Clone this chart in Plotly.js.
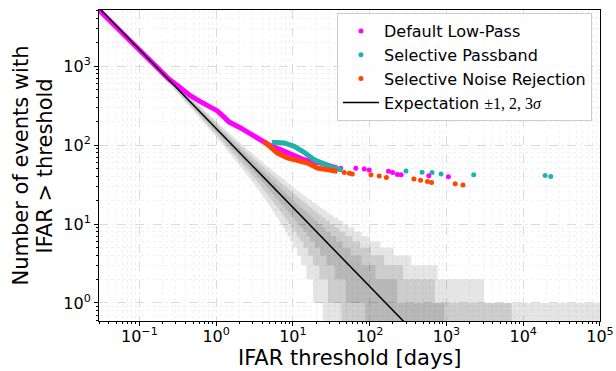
<!DOCTYPE html>
<html>
<head>
<meta charset="utf-8">
<script src="https://cdn.plot.ly/plotly-3.0.1.min.js"></script>
<style>html,body{margin:0;padding:0;background:#fff;}#chart{width:616px;height:371px;}</style>
</head>
<body>
<div id="chart"></div>
<script>
// ---- data ----
const obsTimeDays = 162; // expectation: N = obsTime / IFAR

const lowPassDenseX = [0.0298, 0.1, 0.181, 0.244, 0.329, 0.444, 0.6, 0.81, 1.04, 1.27, 1.48, 2.0, 2.69, 3.63, 4.9, 6.3, 9.0, 14, 23, 30.6, 38];
const lowPassDenseY = [5116, 1600, 880, 680, 545, 432, 362, 305, 270, 225, 195, 168, 140, 121, 100, 91, 78, 65, 59, 53.5, 51];
const lowPassX = [42, 66, 85, 98.6, 176, 199, 230, 257, 590, 1060];
const lowPassY = [50.6, 50.6, 49.6, 48.2, 46.5, 44.8, 42.4, 41.9, 40.7, 39.5];

const passbandDenseX = [5.3, 7.7, 10.4, 14, 19, 25.7, 34.6, 44];
const passbandDenseY = [108, 106, 96, 81, 65, 57, 51, 48];
const passbandX = [297, 481, 649, 851, 2263, 19300, 22860];
const passbandY = [46.9, 45.1, 44.8, 43.1, 41.9, 41.1, 39.9];

const noiseRejDenseX = [4.2, 5.2, 6.3, 8.5, 11.5, 15.5, 20.9, 28.2, 38];
const noiseRejDenseY = [111, 91.5, 79, 68.5, 64, 59, 51, 49, 46.5];
const noiseRejX = [46.7, 54.4, 59.4, 104, 133, 165, 377, 460, 566, 640, 1300, 1640];
const noiseRejY = [45, 43.8, 43, 41.9, 40.4, 38.8, 37.2, 35.8, 34.4, 33.5, 32.3, 31.2];

const sigmaLevels = [3, 2, 1];
const xTickVals = [0.1, 1, 10, 100, 1000, 10000, 100000];
const xTickText = ['10<sup>\u22121</sup>', '10<sup>0</sup>', '10<sup>1</sup>', '10<sup>2</sup>', '10<sup>3</sup>', '10<sup>4</sup>', '10<sup>5</sup>'];
const yTickVals = [1, 10, 100, 1000];
const yTickText = ['10<sup>0</sup>', '10<sup>1</sup>', '10<sup>2</sup>', '10<sup>3</sup>'];

const xMin = 0.0298, xMax = 1e5;

// ---- Poisson confidence bands around the expectation ----
const lnFact = [0];
for (let k = 1; k < 9000; k++) lnFact[k] = lnFact[k - 1] + Math.log(k);
function poissonPPF(q, mu) {
  if (mu <= 0) return 0;
  const lm = Math.log(mu);
  const k0 = Math.max(0, Math.floor(mu - 14 * Math.sqrt(mu) - 10));
  let cdf = 0;
  for (let k = k0; k < 9000; k++) {
    cdf += Math.exp(-mu + k * lm - lnFact[k]);
    if (cdf >= q) return k;
  }
  return 9000;
}
function normCdf(z) {
  const t = 1 / (1 + 0.3275911 * Math.abs(z) / Math.SQRT2);
  const y = 1 - (((((1.061405429 * t - 1.453152027) * t) + 1.421413741) * t - 0.284496736) * t + 0.254829592) * t * Math.exp(-z * z / 2);
  return z >= 0 ? 0.5 * (1 + y) : 0.5 * (1 - y);
}
const nGrid = 2500;
const gridX = [];
for (let i = 0; i < nGrid; i++) {
  gridX.push(Math.pow(10, Math.log10(xMin) + (Math.log10(xMax) - Math.log10(xMin)) * i / (nGrid - 1)));
}

const traces = [];
sigmaLevels.forEach(function (s) {
  const qLo = normCdf(-s), qHi = normCdf(s);
  const lo = [], hi = [];
  gridX.forEach(function (x) {
    const mu = obsTimeDays / x;
    const a = poissonPPF(qLo, mu), b = poissonPPF(qHi, mu);
    lo.push(a > 0 ? a : 0.01);
    hi.push(b > 0 ? b : 0.01);
  });
  traces.push({x: gridX, y: lo, mode: 'lines', line: {width: 0, shape: 'hv'}, showlegend: false, hoverinfo: 'skip', type: 'scatter'});
  traces.push({x: gridX, y: hi, mode: 'lines', line: {width: 0, shape: 'hv'}, fill: 'tonexty', fillcolor: 'rgba(0,0,0,0.1)', showlegend: false, hoverinfo: 'skip', type: 'scatter'});
});

const cMag = '#ff00ff', cTeal = '#20b2aa', cOrange = '#ff4500';

traces.push({x: lowPassDenseX, y: lowPassDenseY, mode: 'lines', line: {color: cMag, width: 5}, showlegend: false, type: 'scatter'});
traces.push({x: lowPassX, y: lowPassY, mode: 'markers', marker: {color: cMag, size: 5}, name: 'Default Low-Pass', legendrank: 1, type: 'scatter'});
traces.push({x: passbandDenseX, y: passbandDenseY, mode: 'lines', line: {color: cTeal, width: 5}, showlegend: false, type: 'scatter'});
traces.push({x: passbandX, y: passbandY, mode: 'markers', marker: {color: cTeal, size: 5}, name: 'Selective Passband', legendrank: 2, type: 'scatter'});
traces.push({x: noiseRejDenseX, y: noiseRejDenseY, mode: 'lines', line: {color: cOrange, width: 5}, showlegend: false, type: 'scatter'});
traces.push({x: noiseRejX, y: noiseRejY, mode: 'markers', marker: {color: cOrange, size: 5}, name: 'Selective Noise Rejection', legendrank: 3, type: 'scatter'});

const expX = [xMin, xMax];
const expY = expX.map(function (x) { return obsTimeDays / x; });
traces.push({x: expX, y: expY, mode: 'lines', line: {color: '#000', width: 1.5}, name: 'Expectation <span style="font-family:Liberation Serif">\u00b11, 2, 3<i>\u03c3</i></span>', legendrank: 4, type: 'scatter'});

const font = 'DejaVu Sans';
const axisCommon = {
  type: 'log', ticks: 'outside', ticklen: 4, tickwidth: 1, tickcolor: '#000',
  showline: true, linecolor: '#000', linewidth: 1, mirror: true,
  showgrid: true, gridcolor: '#d3d3d3', griddash: 'dash', gridwidth: 0.8,
  zeroline: false, tickmode: 'array',
  tickfont: {family: font, size: 16, color: '#000'},
  minor: {ticks: 'outside', ticklen: 2, tickcolor: '#000', dtick: 'D1', showgrid: true, gridcolor: '#ededed', griddash: 'dot', gridwidth: 0.8}
};

const layout = {
  width: 616, height: 371,
  margin: {l: 99, r: 16, t: 10, b: 50},
  paper_bgcolor: '#fff', plot_bgcolor: '#fff',
  font: {family: font, color: '#000'},
  xaxis: Object.assign({}, axisCommon, {range: [Math.log10(xMin), 5.0001], tickvals: xTickVals, ticktext: xTickText, ticklabelstandoff: -3}),
  yaxis: Object.assign({}, axisCommon, {range: [-0.228, 3.709], tickvals: yTickVals, ticktext: yTickText}),
  showlegend: true,
  legend: {x: 0.984, y: 0.99, xanchor: 'right', yanchor: 'top', bgcolor: 'rgba(255,255,255,0.85)', bordercolor: '#cccccc', borderwidth: 1, itemwidth: 36, font: {family: font, size: 16, color: '#000'}, traceorder: 'normal'},
  annotations: [
    {text: 'Number of events with', xref: 'paper', yref: 'paper', x: -0.1557, y: 0.5, xanchor: 'center', yanchor: 'middle', textangle: -90, showarrow: false, font: {family: font, size: 21, color: '#000'}},
    {text: 'IFAR &gt; threshold', xref: 'paper', yref: 'paper', x: -0.1078, y: 0.5, xanchor: 'center', yanchor: 'middle', textangle: -90, showarrow: false, font: {family: font, size: 21, color: '#000'}},
    {text: 'IFAR threshold [days]', xref: 'paper', yref: 'paper', x: 0.5, y: -0.12, xanchor: 'center', yanchor: 'middle', showarrow: false, font: {family: font, size: 21, color: '#000'}}
  ]
};

Plotly.newPlot('chart', traces, layout, {staticPlot: true, displayModeBar: false});
</script>
</body>
</html>
